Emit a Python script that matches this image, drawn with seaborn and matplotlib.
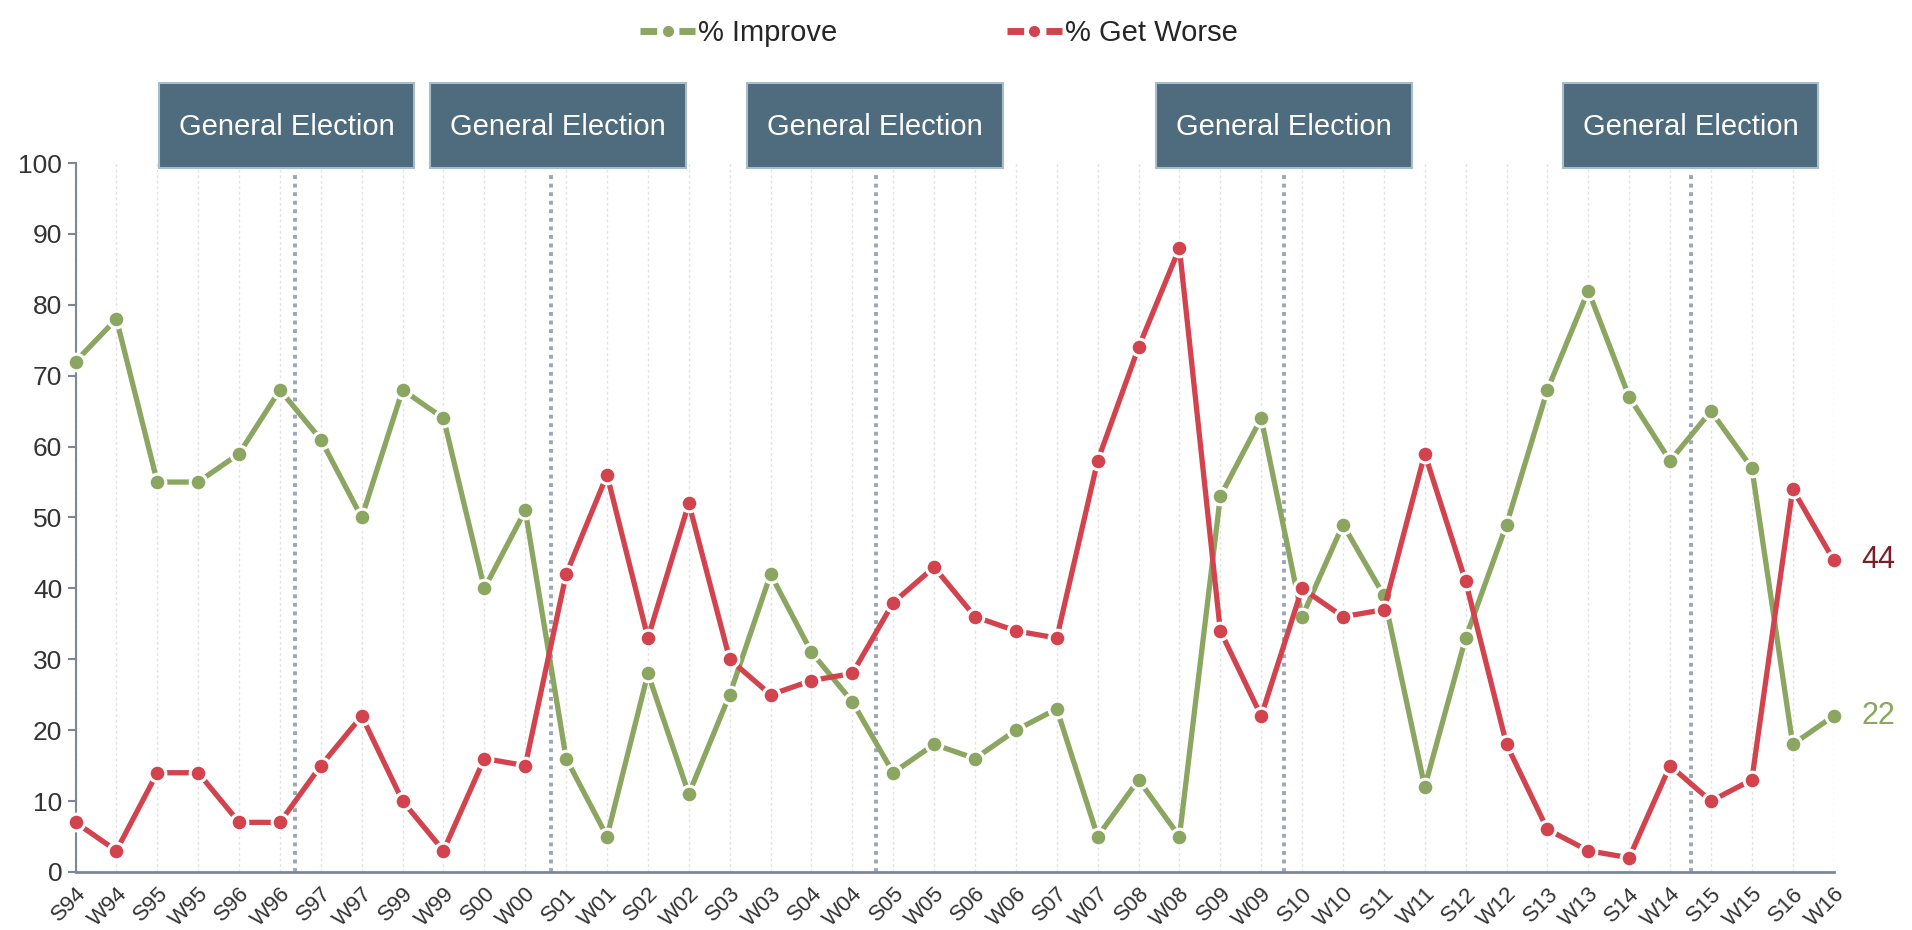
import numpy as np
import pandas as pd
import seaborn as sns
import matplotlib.pyplot as plt
from matplotlib.lines import Line2D
from matplotlib.patches import Rectangle

waves = ['S94', 'W94', 'S95', 'W95', 'S96', 'W96', 'S97', 'W97', 'S99', 'W99',
         'S00', 'W00', 'S01', 'W01', 'S02', 'W02', 'S03', 'W03', 'S04', 'W04',
         'S05', 'W05', 'S06', 'W06', 'S07', 'W07', 'S08', 'W08', 'S09', 'W09',
         'S10', 'W10', 'S11', 'W11', 'S12', 'W12', 'S13', 'W13', 'S14', 'W14',
         'S15', 'W15', 'S16', 'W16']
improve = [72, 78, 55, 55, 59, 68, 61, 50, 68, 64,
           40, 51, 16, 5, 28, 11, 25, 42, 31, 24,
           14, 18, 16, 20, 23, 5, 13, 5, 53, 64,
           36, 49, 39, 12, 33, 49, 68, 82, 67, 58,
           65, 57, 18, 22]
get_worse = [7, 3, 14, 14, 7, 7, 15, 22, 10, 3,
             16, 15, 42, 56, 33, 52, 30, 25, 27, 28,
             38, 43, 36, 34, 33, 58, 74, 88, 34, 22,
             40, 36, 37, 59, 41, 18, 6, 3, 2, 15,
             10, 13, 54, 44]
# election markers (position between waves) and box centres
election_lines = [5.37, 11.63, 19.59, 29.55, 39.5]
election_boxes = [5.16, 11.8, 19.56, 29.55, 39.5]

green = '#8aa660'
red = '#d2434e'
dark_red = '#7a1f27'
box_col = '#4e6c7d'
axis_col = '#7b889c'

sns.set_style('white')
plt.rcParams['font.family'] = ['Liberation Sans', 'DejaVu Sans']

df = pd.DataFrame({'x': np.arange(len(waves)), 'improve': improve, 'worse': get_worse})

fig = plt.figure(figsize=(19.12, 9.3), dpi=100)
ax = fig.add_axes([0.0395, 0.0624, 0.9195, 0.7623])

for xi in df['x']:
    ax.axvline(xi, ymin=0, ymax=1, color='#e2e2e2', lw=1, ls=(0, (2, 2)), zorder=0)
for xl in election_lines:
    ax.plot([xl, xl], [0, 98.6], color='#9ba6b6', lw=2.8, ls=(0, (1, 1.2)), zorder=1)

for col, c in [('improve', green), ('worse', red)]:
    sns.lineplot(data=df, x='x', y=col, ax=ax, color=c, lw=3.8, marker='o',
                 markersize=12, markeredgecolor='white', markeredgewidth=2.2,
                 clip_on=False, zorder=3)

ax.set_xlim(0, len(waves) - 1)
ax.set_ylim(0, 100)
ax.set_yticks(range(0, 101, 10))
ax.set_xticks(df['x'])
ax.set_xticklabels(waves, rotation=45, ha='right', rotation_mode='anchor', fontsize=16, color='#333333')
ax.tick_params(axis='y', labelsize=19, labelcolor='#333333', length=6, width=1.5, color=axis_col, left=True)
ax.tick_params(axis='x', length=0, pad=8)
ax.set_xlabel('')
ax.set_ylabel('')
for s in ['top', 'right']:
    ax.spines[s].set_visible(False)
ax.spines['left'].set_color(axis_col)
ax.spines['left'].set_linewidth(1.5)
ax.spines['bottom'].set_color(axis_col)
ax.spines['bottom'].set_linewidth(2)

for bc in election_boxes:
    ax.add_patch(Rectangle((bc - 3.13, 99.3), 6.26, 12.0, facecolor=box_col,
                           edgecolor='#a8bdc9', lw=1.5, clip_on=False, zorder=4))
    ax.text(bc, 105.1, 'General Election', ha='center', va='center', color='white',
            fontsize=21, zorder=5, clip_on=False)

ax.annotate(str(get_worse[-1]), (len(waves) - 1, get_worse[-1]), xytext=(20, 0),
            textcoords='offset points', va='center', ha='left', fontsize=22, color=dark_red)
ax.annotate(str(improve[-1]), (len(waves) - 1, improve[-1]), xytext=(20, 0),
            textcoords='offset points', va='center', ha='left', fontsize=22, color=green)

handles = [Line2D([0], [0], color=c, lw=5, ls=(0, (2.4, 3.2)), marker='o', markersize=8,
                  markeredgewidth=0) for c in (green, red)]
fig.legend(handles, ['% Improve', '% Get Worse'], loc='upper center', ncol=2,
           bbox_to_anchor=(0.491, 1.008), frameon=False, fontsize=21, handlelength=1.9,
           handletextpad=0.1, columnspacing=5.8)

fig.savefig('out.png', dpi=100)
